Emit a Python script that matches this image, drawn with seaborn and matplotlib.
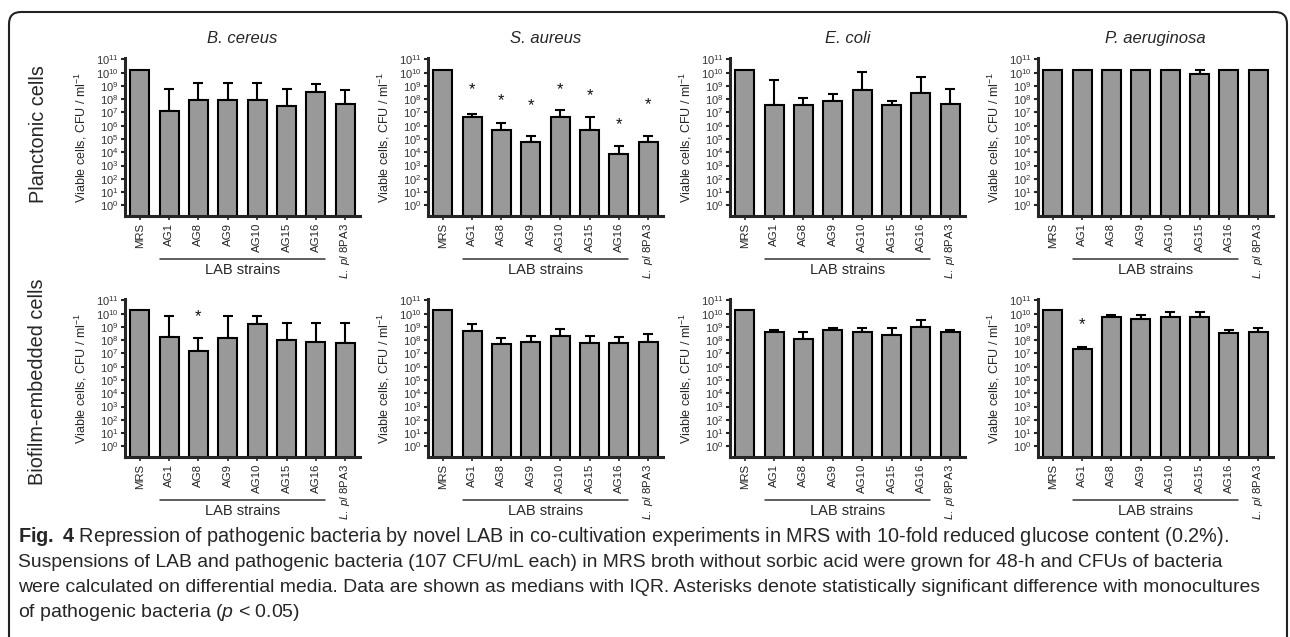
import numpy as np
import pandas as pd
import matplotlib
matplotlib.use("Agg")
import matplotlib.pyplot as plt
import matplotlib.transforms as mtransforms
from matplotlib.patches import FancyBboxPatch
from matplotlib.ticker import NullLocator
import seaborn as sns

# ---------------- data (CFU / ml) ----------------
strains = ["MRS", "AG1", "AG8", "AG9", "AG10", "AG15", "AG16", r"$\mathit{L.\ pl}$ 8PA3"]
pathogens = ["B. cereus", "S. aureus", "E. coli", "P. aeruginosa"]
row_names = ["Planctonic cells", "Biofilm-embedded cells"]
lab_group = ["AG1", "AG16"]

# planktonic cells: medians and upper quartiles
plank_bcereus_med = [1.6e10, 1.3e7, 9.0e7, 8.0e7, 8.0e7, 3.2e7, 3.2e8, 4.0e7]
plank_bcereus_q3 = [1.6e10, 5.6e8, 1.6e9, 1.6e9, 1.6e9, 5.6e8, 1.3e9, 5.0e8]
plank_saureus_med = [1.6e10, 4.3e6, 4.8e5, 5.6e4, 4.8e6, 4.8e5, 7.6e3, 5.6e4]
plank_saureus_q3 = [1.6e10, 7.9e6, 1.6e6, 1.8e5, 1.6e7, 4.8e6, 3.2e4, 1.8e5]
plank_ecoli_med = [1.6e10, 3.5e7, 3.5e7, 7.6e7, 5.0e8, 3.5e7, 2.8e8, 4.0e7]
plank_ecoli_q3 = [1.6e10, 2.8e9, 1.2e8, 2.4e8, 1.1e10, 6.8e7, 4.8e9, 5.6e8]
plank_paerug_med = [1.6e10, 1.6e10, 1.6e10, 1.6e10, 1.6e10, 8.5e9, 1.6e10, 1.6e10]
plank_paerug_q3 = [1.6e10, 1.6e10, 1.6e10, 1.6e10, 1.6e10, 1.6e10, 1.6e10, 1.6e10]

# biofilm-embedded cells
bio_bcereus_med = [1.9e10, 1.8e8, 1.4e7, 1.45e8, 1.55e9, 1.1e8, 7.2e7, 6.3e7]
bio_bcereus_q3 = [1.9e10, 6.3e9, 1.55e8, 6.3e9, 6.3e9, 2.0e9, 2.0e9, 2.0e9]
bio_saureus_med = [1.9e10, 5.2e8, 5.4e7, 7.2e7, 1.95e8, 5.8e7, 5.8e7, 7.6e7]
bio_saureus_q3 = [1.9e10, 1.55e9, 1.55e8, 2.2e8, 7.4e8, 1.95e8, 1.8e8, 2.75e8]
bio_ecoli_med = [1.9e10, 4.4e8, 1.15e8, 5.5e8, 4.4e8, 2.3e8, 9.8e8, 4.4e8]
bio_ecoli_q3 = [1.9e10, 6.2e8, 4.1e8, 7.8e8, 8.3e8, 8.3e8, 3.3e9, 5.5e8]
bio_paerug_med = [1.9e10, 2.0e7, 5.6e9, 3.7e9, 5.6e9, 5.6e9, 3.2e8, 4.4e8]
bio_paerug_q3 = [1.9e10, 3.2e7, 7.9e9, 7.9e9, 1.26e10, 1.26e10, 5.9e8, 8.3e8]

# asterisk levels (None = no asterisk)
plank_saureus_star = [None, 5.6e8, 8.0e7, 3.2e7, 5.0e8, 2.0e8, 1.3e6, 4.0e7]
bio_bcereus_star = [None, None, 6.0e9, None, None, None, None, None]
bio_paerug_star = [None, 1.4e9, None, None, None, None, None, None]
no_star = [None] * 8

panels = [
    [(plank_bcereus_med, plank_bcereus_q3, no_star),
     (plank_saureus_med, plank_saureus_q3, plank_saureus_star),
     (plank_ecoli_med, plank_ecoli_q3, no_star),
     (plank_paerug_med, plank_paerug_q3, no_star)],
    [(bio_bcereus_med, bio_bcereus_q3, bio_bcereus_star),
     (bio_saureus_med, bio_saureus_q3, no_star),
     (bio_ecoli_med, bio_ecoli_q3, no_star),
     (bio_paerug_med, bio_paerug_q3, bio_paerug_star)],
]

caption_lines = [
    r"$\mathbf{Fig.\ 4}$ Repression of pathogenic bacteria by novel LAB in co-cultivation experiments in MRS with 10-fold reduced glucose content (0.2%).",
    "Suspensions of LAB and pathogenic bacteria (107 CFU/mL each) in MRS broth without sorbic acid were grown for 48-h and CFUs of bacteria",
    "were calculated on differential media. Data are shown as medians with IQR. Asterisks denote statistically significant difference with monocultures",
    r"of pathogenic bacteria ($\mathit{p}$ < 0.05)",
]
caption_right_px = [1229, 1232, 1266, None]

# ---------------- style ----------------
sns.set_style("ticks")
plt.rcParams["font.family"] = ["Liberation Sans", "DejaVu Sans"]
plt.rcParams["mathtext.fontset"] = "custom"
plt.rcParams["mathtext.rm"] = "Liberation Sans"
plt.rcParams["mathtext.it"] = "Liberation Sans:italic"
plt.rcParams["mathtext.bf"] = "Liberation Sans:bold"
plt.rcParams["mathtext.default"] = "regular"

W, H = 1290, 637
fig = plt.figure(figsize=(W / 100, H / 100), dpi=100)
fig.patch.set_facecolor("white")

col_left = [125, 428, 730, 1038]
row_top = [58, 299]
ax_w, ax_h = 235, 158
bar_w = 0.65

for r in range(2):
    for c in range(4):
        med, q3, stars = panels[r][c]
        ax = fig.add_axes([col_left[c] / W, 1 - (row_top[r] + ax_h) / H, ax_w / W, ax_h / H])
        df = pd.DataFrame({"strain": strains, "cfu": med})
        sns.barplot(data=df, x="strain", y="cfu", order=strains, color="#999999",
                    saturation=1, edgecolor="black", linewidth=1.5, width=bar_w,
                    log_scale=True, ax=ax, errorbar=None, zorder=2)
        x = np.arange(len(strains))
        med_a = np.array(med)
        up = np.array(q3) - med_a
        keep = up > 0
        ax.errorbar(x[keep], med_a[keep], yerr=[np.zeros(keep.sum()), up[keep]],
                    fmt="none", ecolor="black", elinewidth=1.5, capsize=3.3,
                    capthick=1.5, zorder=1)
        for i, s in enumerate(stars):
            if s is not None:
                ax.text(i, s, "*", ha="center", va="center", fontsize=12, color="#111111")
        ax.set_yscale("log")
        ax.set_ylim(10 ** -0.8, 10 ** 11.1)
        ax.set_xlim(-0.5, len(strains) - 0.5)
        ax.set_yticks([10.0 ** k for k in range(12)])
        ax.set_yticklabels([f"$10^{{{k}}}$" for k in range(12)], fontsize=8, color="#333333")
        ax.yaxis.set_minor_locator(NullLocator())
        ax.tick_params(axis="y", length=3, width=1.5, pad=1.5)
        ax.tick_params(axis="x", length=3, width=1.2, pad=2, labelsize=8.2, labelrotation=90,
                       labelcolor="#222222")
        for sp in ["top", "right"]:
            ax.spines[sp].set_visible(False)
        for sp in ["left", "bottom"]:
            ax.spines[sp].set_linewidth(2.2)
        ax.set_xlabel("")
        ax.set_ylabel(r"Viable cells, CFU / ml$^{-1}$", fontsize=9)
        ax.yaxis.set_label_coords(-0.155, 0.5)
        if r == 0:
            ax.set_title(pathogens[c], style="italic", fontsize=12, pad=11)
        # LAB strains bracket
        i0 = strains.index(lab_group[0])
        i1 = strains.index(lab_group[1])
        tr = mtransforms.blended_transform_factory(ax.transData, ax.transAxes)
        ax.plot([i0 - bar_w / 2, i1 + bar_w / 2], [-0.272, -0.272], transform=tr,
                color="#333333", lw=1.1, clip_on=False)
        ax.text((i0 + i1) / 2, -0.34, "LAB strains", transform=tr, ha="center",
                va="center", fontsize=10.5)

# row labels
fig.text(38 / W, 1 - 134 / H, row_names[0], rotation=90, ha="center", va="center", fontsize=14.3)
fig.text(38 / W, 1 - 382 / H, row_names[1], rotation=90, ha="center", va="center", fontsize=14.3)

# caption: each line fitted to the width it takes in the reference
renderer = fig.canvas.get_renderer()
cap_x = 18
sizes = []
texts = []
for k, line in enumerate(caption_lines):
    t = fig.text(cap_x / W, 1 - (537 + 25.3 * k) / H, line, ha="left", va="center", fontsize=14)
    texts.append(t)
    if caption_right_px[k] is not None:
        w = t.get_window_extent(renderer).width
        fs = 14 * (caption_right_px[k] - cap_x) / w
        t.set_fontsize(fs)
        sizes.append(fs)
texts[-1].set_fontsize(float(np.mean(sizes)))

# rounded frame
frame = FancyBboxPatch((9, -30), 1278, 655, boxstyle="round,pad=0,rounding_size=12",
                       transform=mtransforms.IdentityTransform(), facecolor="none",
                       edgecolor="#222222", linewidth=1.5)
fig.add_artist(frame)

fig.savefig("out.png", dpi=100)
